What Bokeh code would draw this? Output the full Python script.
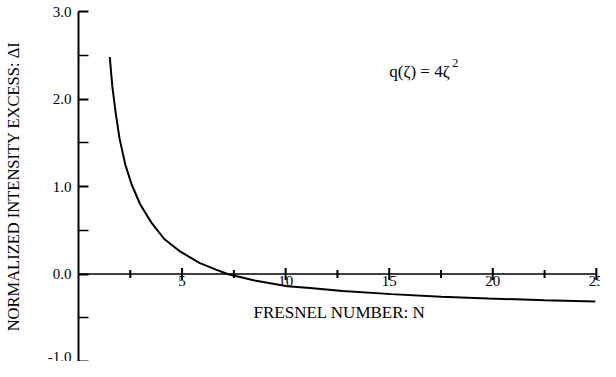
import math
from bokeh.plotting import figure
from bokeh.models import Range1d, FixedTicker, NumeralTickFormatter, Label
from bokeh.core.properties import value
from bokeh.embed import file_html
from bokeh.resources import INLINE

# data
fresnel_n = [1.51, 1.63, 1.79, 1.98, 2.26, 2.57, 2.97, 3.51, 4.14, 4.92, 5.86, 6.64, 7.19,
             8.5, 10.08, 11.18, 12.75, 15.1, 17.5, 19.8, 22.5, 24.95]
delta_i = [2.48, 2.15, 1.85, 1.55, 1.25, 1.02, 0.80, 0.59, 0.40, 0.255, 0.124, 0.05, 0.0,
           -0.075, -0.14, -0.16, -0.195, -0.23, -0.26, -0.28, -0.30, -0.315]

x_major = [5, 10, 15, 20, 25]
x_minor = [2.5, 7.5, 12.5, 17.5, 22.5]
x_tick_labels = ["5", "10", "15", "20", "25"]
y_major = [-1, 0, 1, 2, 3]
y_minor = [-0.5, 0.5, 1.5, 2.5]
y_title = "NORMALIZED INTENSITY EXCESS: \u0394I"
x_title = "FRESNEL NUMBER: N"
note_text = "q(\u03b6) = 4\u03b6"
note_sup = "2"

FONT = "Liberation Serif"

p = figure(width=600, height=361, x_range=Range1d(0, 25.2), y_range=Range1d(-1, 3),
           x_axis_location=None, output_backend="svg", toolbar_location=None,
           min_border_left=70, min_border_right=0, min_border_top=11, min_border_bottom=0)
p.grid.visible = False
p.outline_line_color = None
p.background_fill_color = "white"

ya = p.yaxis[0]
ya.ticker = FixedTicker(ticks=y_major, minor_ticks=y_minor)
ya.formatter = NumeralTickFormatter(format="0.0")
ya.axis_line_width = 2
ya.axis_line_color = "black"
ya.major_tick_in = 10
ya.major_tick_out = 0
ya.minor_tick_in = 10
ya.minor_tick_out = 0
ya.major_tick_line_width = 2
ya.minor_tick_line_width = 1.5
ya.major_tick_line_color = "black"
ya.minor_tick_line_color = "black"
ya.major_label_standoff = 7
ya.major_label_text_font = FONT
ya.major_label_text_font_size = "15px"
ya.major_label_text_color = "black"
ya.axis_label = y_title
ya.axis_label_text_font = FONT
ya.axis_label_text_font_size = "16.5px"
ya.axis_label_text_font_style = "normal"
ya.axis_label_text_color = "black"
ya.axis_label_standoff = 22

# x axis drawn at y = 0
p.segment(x0=[0], y0=[0], x1=[x_major[-1]], y1=[0], line_color="black", line_width=1.5)
p.scatter(x=x_major, y=[0] * len(x_major), marker="dash", size=12, angle=math.pi / 2,
          line_color="black", line_width=2)
p.scatter(x=x_minor, y=[0] * len(x_minor), marker="dash", size=8, angle=math.pi / 2,
          line_color="black", line_width=2)
p.text(x=x_major, y=[0] * len(x_major), text=x_tick_labels, text_align="center",
       text_baseline="top", y_offset=2, text_font=value(FONT), text_font_size="15px",
       text_color="black")

# curve
p.line(fresnel_n, delta_i, line_color="black", line_width=2)

# titles / annotation
p.add_layout(Label(x=12.6, y=-0.44, text=x_title, text_align="center", text_baseline="middle",
                   text_font=FONT, text_font_size="17px", text_color="black"))
p.add_layout(Label(x=15.0, y=2.31, text=note_text, text_align="left", text_baseline="middle",
                   text_font=FONT, text_font_size="17px", text_color="black"))
p.add_layout(Label(x=15.0, y=2.31, x_offset=63, y_offset=9, text=note_sup, text_align="left",
                   text_baseline="middle", text_font=FONT, text_font_size="12px",
                   text_color="black"))

open("out.html", "w").write(file_html(p, INLINE))
